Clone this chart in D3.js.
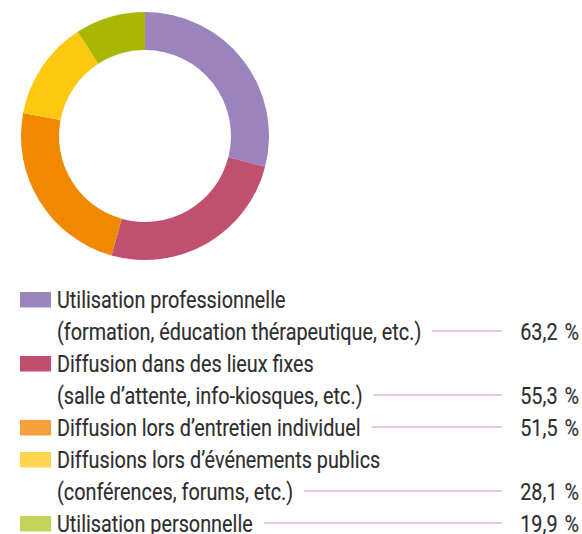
<!DOCTYPE html>
<html>
<head>
<meta charset="utf-8">
<script src="https://cdn.jsdelivr.net/npm/d3@7"></script>
<style>
  html, body { margin: 0; padding: 0; background: #fff; }
  svg { display: block; }
</style>
</head>
<body>
<svg id="chart" width="582" height="534"></svg>
<script>
// ---- data ----
const categories = [
  ["Utilisation professionnelle", "(formation, éducation thérapeutique, etc.)"],
  ["Diffusion dans des lieux fixes", "(salle d’attente, info-kiosques, etc.)"],
  ["Diffusion lors d’entretien individuel"],
  ["Diffusions lors d’événements publics", "(conférences, forums, etc.)"],
  ["Utilisation personnelle"]
];
const values = [63.2, 55.3, 51.5, 28.1, 19.9];
const donutColors = ["#9b84bd", "#c0506f", "#f08800", "#fdc80f", "#a8b800"];
const swatchColors = ["#9b85bd", "#c24e6f", "#f5a03e", "#ffd44f", "#c3d356"];

// ---- setup ----
const svg = d3.select("#chart");
const fr = d3.formatLocale({decimal: ",", thousands: " ", grouping: [3], currency: ["", " €"]});
const fmt = v => fr.format(".1f")(v) + "\u00a0\u200a%";

// ---- donut ----
const cx = 145, cy = 136, R = 124, r = 86;
const pie = d3.pie().sort(null).value(d => d)(values);
const arc = d3.arc().innerRadius(r).outerRadius(R);
svg.append("g")
  .attr("transform", `translate(${cx},${cy})`)
  .selectAll("path")
  .data(pie)
  .join("path")
  .attr("d", arc)
  .attr("fill", (d, i) => donutColors[i]);

// ---- legend ----
const font = "Roboto, 'Liberation Sans', sans-serif";
const fontSize = 23.5;
const textX = 57, swX = 20, swW = 31, swH = 15.5;
const firstTop = 292, rowH = 32;
const valueX = 579, lineEnd = 502;
const textColor = "#2e2e2e";
const lineColor = "#c98fcb";

// measure condensing factor (calibrated on a few lines' widths in the reference)
const calib = [[categories[0][0], 226], [categories[0][1], 364.7], [categories[2][0], 306]];
let measured = 0, target = 0;
calib.forEach(([s, w]) => {
  const p = svg.append("text").attr("font-family", font).attr("font-size", fontSize).text(s);
  measured += p.node().getComputedTextLength();
  target += w;
  p.remove();
});
const k = target / measured;

const lg = svg.append("g");
let row = 0;
categories.forEach((lines, i) => {
  const top = firstTop + row * rowH;
  lg.append("rect")
    .attr("x", swX).attr("y", top)
    .attr("width", swW).attr("height", swH)
    .attr("fill", swatchColors[i]);
  lines.forEach((ln, j) => {
    const base = firstTop + (row + j) * rowH + 15.5;
    const t = lg.append("text")
      .attr("transform", `translate(${textX},${base}) scale(${k},1)`)
      .attr("font-family", font).attr("font-size", fontSize)
      .attr("fill", textColor)
      .attr("stroke", textColor).attr("stroke-width", 0.15)
      .text(ln);
    if (j === lines.length - 1) {
      const endX = textX + k * t.node().getComputedTextLength();
      lg.append("line")
        .attr("x1", endX + 11).attr("x2", lineEnd)
        .attr("y1", base - 8.5).attr("y2", base - 8.5)
        .attr("stroke", lineColor).attr("stroke-width", 1);
      lg.append("text")
        .attr("transform", `translate(${valueX},${base}) scale(${k},1)`)
        .attr("text-anchor", "end")
        .attr("font-family", font).attr("font-size", fontSize)
        .attr("fill", textColor)
        .attr("stroke", textColor).attr("stroke-width", 0.15)
        .text(fmt(values[i]));
    }
  });
  row += lines.length;
});
</script>
</body>
</html>
